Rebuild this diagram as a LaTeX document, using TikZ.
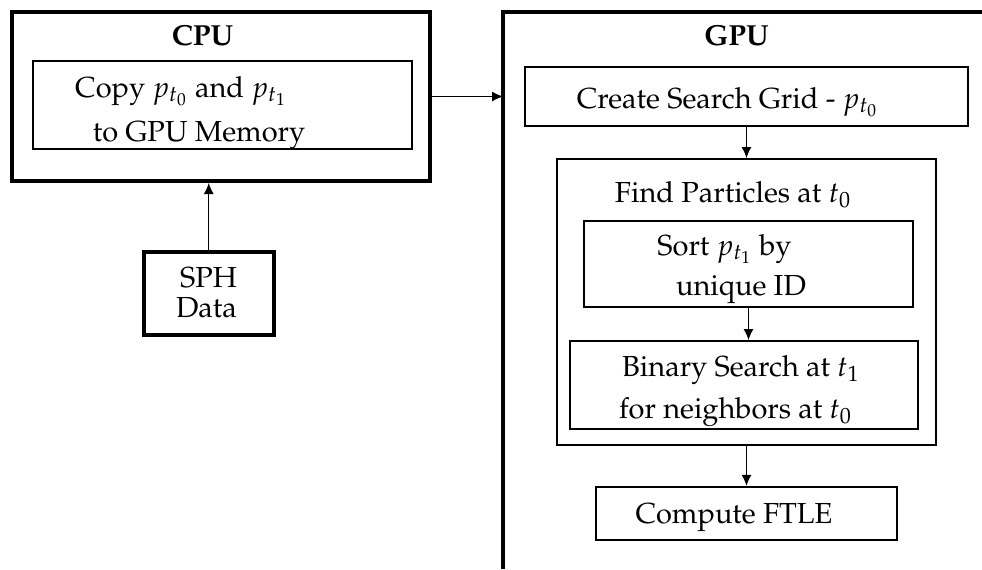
\documentclass[tikz,border=0pt]{standalone}
\usepackage[T1]{fontenc}
\usepackage{mathpazo}
\usetikzlibrary{arrows.meta}

\tikzset{
  heavybox/.style={draw, line width=2pt, rectangle, inner sep=0pt},
  lightbox/.style={draw, line width=1pt, rectangle, inner sep=0pt},
  txt/.style={anchor=base, inner sep=0pt, font=\fontsize{14.5}{17}\selectfont},
  btxt/.style={anchor=base, inner sep=0pt, font=\fontsize{14.5}{17}\selectfont\bfseries},
  arr/.style={line width=0.5pt, -{Latex[length=5.5pt,width=5pt]}},
}

\begin{document}
\begin{tikzpicture}[x=0.5pt, y=-0.5pt]
  \useasboundingbox (0,0) rectangle (982,569);

  % ---------- CPU side ----------
  \node[heavybox, minimum width=209pt, minimum height=84.5pt] (cpu) at (221,96.5) {};
  \node[btxt] (cpulbl) at (202.5,45) {CPU};
  \node[lightbox, minimum width=189.5pt, minimum height=44pt] (copy) at (222.5,105) {};
  \node[txt] (copy1) at (181,97) {Copy $p_{t_0}$ and $p_{t_1}$};
  \node[txt] (copy2) at (199,141) {to GPU Memory};

  \node[heavybox, minimum width=64.75pt, minimum height=41.75pt] (sph) at (208.75,293.25) {};
  \node[txt] (sph1) at (208.5,287) {SPH};
  \node[txt] (sph2) at (206.5,317) {Data};

  % ---------- GPU side (frame open to the right and bottom) ----------
  \coordinate (gpuBL) at (503,569);
  \coordinate (gpuTL) at (503,12);
  \coordinate (gpuTR) at (982,12);
  \draw[line width=2pt] (gpuBL) -- (gpuTL) -- (gpuTR);
  \node[btxt] (gpulbl) at (736.5,45) {GPU};

  \node[draw, line width=1.3pt, inner sep=0pt, minimum width=221.5pt, minimum height=29.5pt] (grid) at (746.5,96.5) {};
  \node[txt] (grid1) at (727.5,108) {Create Search Grid - $p_{t_0}$};

  \node[lightbox, minimum width=189.5pt, minimum height=143pt] (find) at (746.5,302) {};
  \node[txt] (find1) at (733,202) {Find Particles at $t_0$};

  \node[lightbox, minimum width=164.5pt, minimum height=43pt] (sort) at (748.5,264) {};
  \node[txt] (sort1) at (724.5,255) {Sort $p_{t_1}$ by};
  \node[txt] (sort2) at (741,295) {unique ID};

  \node[lightbox, minimum width=174pt, minimum height=44pt] (bin) at (744,385) {};
  \node[txt] (bin1) at (741,376) {Binary Search at $t_1$};
  \node[txt] (bin2) at (735.5,418) {for neighbors at $t_0$};

  \node[draw, line width=1.2pt, inner sep=0pt, minimum width=150.5pt, minimum height=26.5pt] (ftle) at (746.5,513.5) {};
  \node[txt] (ftle1) at (734,523) {Compute FTLE};

  % ---------- connectors ----------
  \draw[arr] (cpu.east) -- (cpu.east -| gpuTL);
  \draw[arr] (sph.north) -- (sph.north |- cpu.south);
  \draw[arr] (grid.south) -- (find.north);
  \draw[arr] (sort.south) -- (sort.south |- bin.north);
  \draw[arr] (find.south) -- (ftle.north);
\end{tikzpicture}
\end{document}
